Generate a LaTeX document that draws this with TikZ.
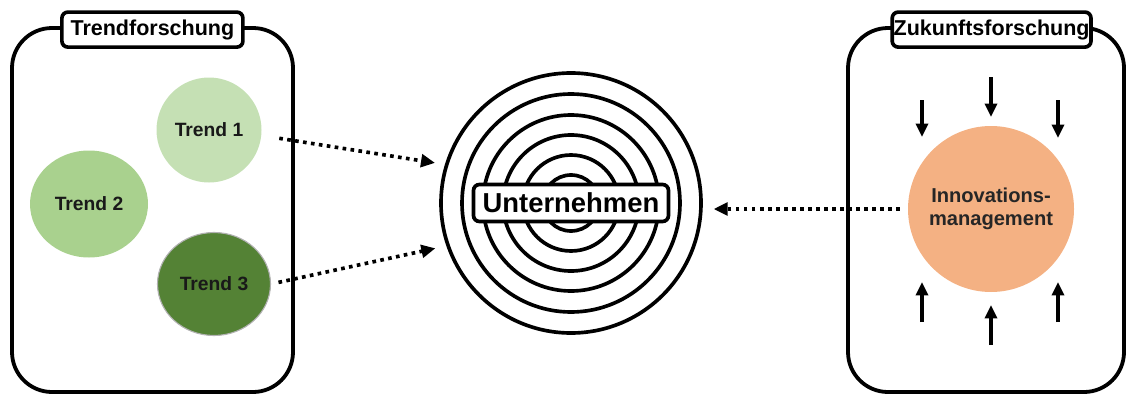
\documentclass[tikz,border=0pt]{standalone}
\usepackage{fontspec}
\setmainfont{Liberation Sans}
\usepackage{tikz}
\usetikzlibrary{arrows.meta, shapes.geometric}

\definecolor{trendhell}{HTML}{C5E0B4}
\definecolor{trendmittel}{HTML}{A9D18E}
\definecolor{trenddunkel}{HTML}{548235}
\definecolor{innovfarbe}{HTML}{F4B183}

\begin{document}
\begin{tikzpicture}[
    feld/.style={draw, line width=2.7pt, rounded corners=1cm},
    titel/.style={draw, fill=white, line width=2.6pt, rounded corners=0.15cm, minimum height=0.875cm, inner sep=1pt, font=\fontsize{15.3}{18}\selectfont\bfseries},
    trend/.style={ellipse, fill=#1, inner sep=0pt, font=\fontsize{13.7}{16}\selectfont\bfseries, text=black!90},
    ringlinie/.style={draw, line width=2.6pt},
    flow/.style={line width=2.6pt, dash pattern=on 2.6pt off 3.1pt, -{Triangle[length=10pt, width=9pt]}},
    druck/.style={line width=2.4pt, -{Triangle[length=9.5pt, width=8.5pt]}}
]
    \useasboundingbox (0,0) rectangle (28.175,-9.9);

    % Felder mit Titeln
    \draw[feld] (0.3,-0.7) rectangle (7.325,-9.8);
    \draw[feld] (21.2,-0.7) rectangle (28.1,-9.8);
    \node[titel, minimum width=4.525cm] (trendtitel) at (3.81,-0.74) {Trendforschung};
    \node[titel, minimum width=4.925cm] (zukunfttitel) at (24.79,-0.74) {Zukunftsforschung};

    % Trends
    \node[trend=trendhell, minimum width=2.625cm, minimum height=2.625cm] (t1) at (5.225,-3.25) {Trend 1};
    \node[trend=trendmittel, minimum width=2.95cm, minimum height=2.675cm] (t2) at (2.225,-5.1) {Trend 2};
    \node[trend=trenddunkel, draw=black!30, line width=0.8pt, minimum width=2.825cm, minimum height=2.575cm] (t3) at (5.35,-7.1) {Trend 3};

    % Unternehmen (Ringe)
    \node[ringlinie, circle, minimum size=6.5cm] (ring) at (14.275,-5.075) {};
    \foreach \rad in {0.7,1.2,1.7,2.2,2.725}
        \draw[ringlinie] (ring.center) circle (\rad cm);
    \node[titel, minimum width=4.875cm, minimum height=0.925cm, font=\fontsize{19.5}{22}\selectfont\bfseries] (firma) at (ring.center) {Unternehmen};

    % Innovationsmanagement
    \node[circle, fill=innovfarbe, minimum size=4.15cm, align=center, font=\fontsize{14.3}{16}\selectfont\bfseries, text=black!85] (innov) at (24.775,-5.225) {Innovations-\\management};

    % Einfluesse
    \foreach \x/\yo/\yu in {23.05/-2.5/-3.425, 24.775/-1.925/-2.925, 26.45/-2.5/-3.45}
        \draw[druck] (\x,\yo) -- (\x,\yu);
    \foreach \x/\yu/\yo in {23.05/-8.05/-7.05, 24.775/-8.625/-7.625, 26.45/-8.05/-7.05}
        \draw[druck] (\x,\yu) -- (\x,\yo);

    % Verbindungen
    \draw[flow, shorten <=0.45cm, shorten >=0.25cm] (t1.-6) -- (ring.163);
    \draw[flow, shorten <=0.19cm, shorten >=0.28cm] (t3.east) -- (ring.199);
    \draw[flow, shorten <=0.2cm, shorten >=0.27cm] (innov.west) -- (innov.west -| ring.east);

\end{tikzpicture}
\end{document}
